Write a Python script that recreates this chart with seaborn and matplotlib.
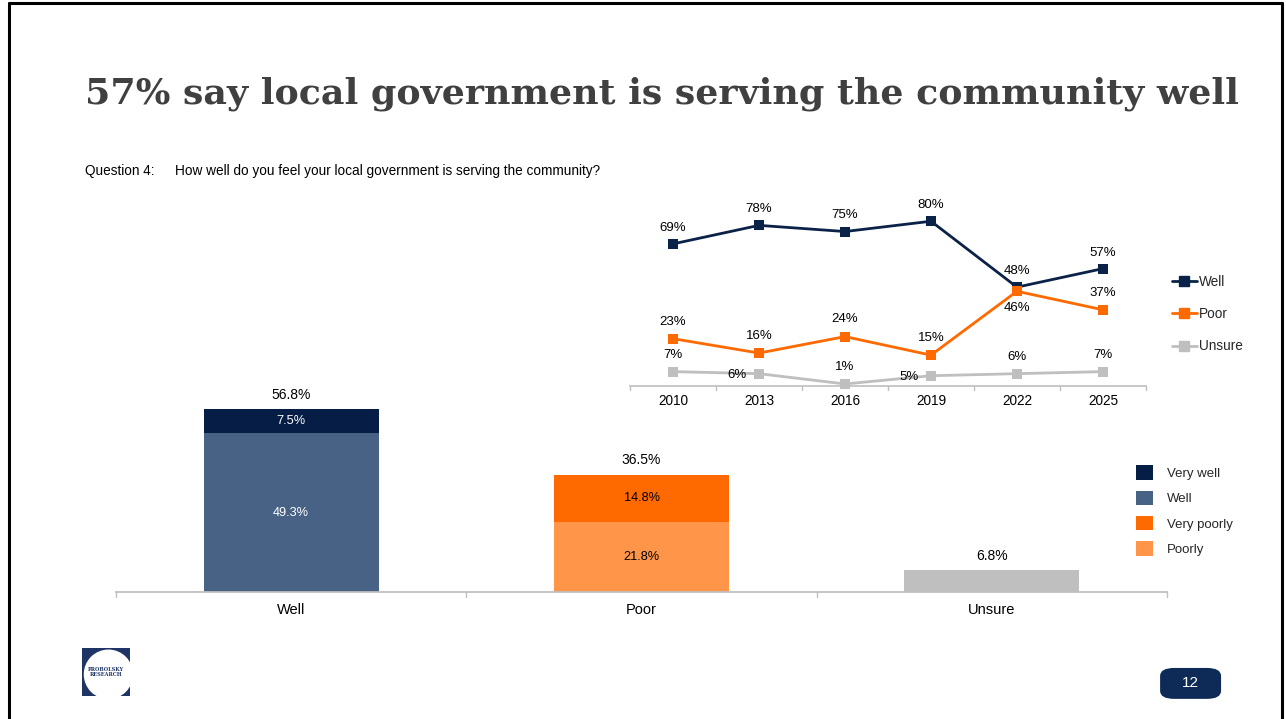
import numpy as np
import pandas as pd
import matplotlib.pyplot as plt
import seaborn as sns
from matplotlib.patches import Patch, FancyBboxPatch, Rectangle, Circle
from matplotlib.lines import Line2D

# bar chart data (2025 survey)
categories = ["Well", "Poor", "Unsure"]
totals = [56.8, 36.5, 6.8]
base_segment = [49.3, 21.8, 6.8]
top_segment = [7.5, 14.8, 0.0]
segment_names = ["Very well", "Well", "Very poorly", "Poorly"]

# trend data
years = ["2010", "2013", "2016", "2019", "2022", "2025"]
well_trend = [69, 78, 75, 80, 48, 57]
poor_trend = [23, 16, 24, 15, 46, 37]
unsure_trend = [7, 6, 1, 5, 6, 7]

NAVY = "#061E45"
WELL_BLUE = "#476285"
DEEP_ORANGE = "#FF6A00"
LIGHT_ORANGE = "#FF9548"
GRAY = "#BFBFBF"
LINE_NAVY = "#0B2248"

sns.set_theme(style="white")
plt.rcParams['font.family'] = ['Liberation Sans', 'DejaVu Sans']

fig = plt.figure(figsize=(12.86, 7.19), dpi=100)

# slide frame
for xs, ys in [([0.007, 0.007], [0.0, 0.996]), ([0.007, 0.997], [0.996, 0.996]), ([0.997, 0.997], [0.0, 0.996])]:
    fig.add_artist(Line2D(xs, ys, color="black", lw=2.2, transform=fig.transFigure))

fig.text(0.0661, 0.869, "57% say local government is serving the community well",
         fontsize=26.2, fontweight="bold", family="DejaVu Serif", color="#404040", va="center", ha="left")
fig.text(0.0661, 0.762, "Question 4:", fontsize=9.8, color="black", va="center")
fig.text(0.136, 0.762, "How well do you feel your local government is serving the community?",
         fontsize=9.8, color="black", va="center")

# ---- stacked bar chart ----
ax = fig.add_axes([0.0902, 0.1766, 0.8173, 0.4478])
df_bar = pd.DataFrame({"cat": categories, "total": totals, "base": base_segment})
sns.barplot(data=df_bar, x="cat", y="total", hue="cat", palette=[NAVY, DEEP_ORANGE, GRAY],
            width=0.5, legend=False, ax=ax, saturation=1, linewidth=0, edgecolor="none")
sns.barplot(data=df_bar, x="cat", y="base", hue="cat", palette=[WELL_BLUE, LIGHT_ORANGE, GRAY],
            width=0.5, legend=False, ax=ax, saturation=1, linewidth=0, edgecolor="none")
ax.set_ylim(0, 100)
ax.set_xlim(-0.5, 2.5)
ax.set_xlabel("")
ax.set_ylabel("")
ax.set_yticks([])
ax.set_xticks([0, 1, 2])
ax.set_xticklabels(categories, fontsize=10.5, color="black")
ax.tick_params(axis="x", length=0, pad=8)
for s in ["top", "right", "left"]:
    ax.spines[s].set_visible(False)
ax.spines["bottom"].set_color(GRAY)
ax.spines["bottom"].set_linewidth(1.3)
for b in [-0.5, 0.5, 1.5, 2.5]:
    ax.plot([b, b], [0, -1.5], color=GRAY, lw=1, clip_on=False)

for i, cat in enumerate(categories):
    ax.text(i, totals[i] + 2.3, f"{totals[i]:.1f}%", ha="center", va="bottom", fontsize=10, color="black")
    if top_segment[i] > 0:
        seg_col = "white" if i == 0 else "black"
        ax.text(i, base_segment[i] + top_segment[i] / 2, f"{top_segment[i]:.1f}%", ha="center", va="center",
                fontsize=9.2, color=seg_col)
        ax.text(i, base_segment[i] / 2, f"{base_segment[i]:.1f}%", ha="center", va="center",
                fontsize=9.2, color=seg_col)

bar_handles = [Patch(facecolor=c, edgecolor="none") for c in [NAVY, WELL_BLUE, DEEP_ORANGE, LIGHT_ORANGE]]
fig.legend(bar_handles, segment_names, loc="upper left", bbox_to_anchor=(0.8835, 0.353),
           frameon=False, fontsize=9.5, handlelength=1.3, handleheight=1.3, labelspacing=0.82,
           handletextpad=1.0, borderaxespad=0, borderpad=0)

# ---- trend line chart ----
ax2 = fig.add_axes([0.4899, 0.4631, 0.4012, 0.2865])
trend = pd.DataFrame({
    "year": years * 3,
    "value": well_trend + poor_trend + unsure_trend,
    "series": ["Well"] * 6 + ["Poor"] * 6 + ["Unsure"] * 6,
})
line_colors = {"Well": LINE_NAVY, "Poor": DEEP_ORANGE, "Unsure": GRAY}
sns.lineplot(data=trend, x="year", y="value", hue="series", palette=line_colors, marker="s",
             markersize=7, markeredgewidth=0, linewidth=2, legend=False, ax=ax2, clip_on=False)
ax2.set_ylim(0, 100)
ax2.set_xlim(-0.5, 5.5)
ax2.set_xlabel("")
ax2.set_ylabel("")
ax2.set_yticks([])
ax2.tick_params(axis="x", length=0, pad=6, labelsize=9.8, labelcolor="black")
for s in ["top", "right", "left"]:
    ax2.spines[s].set_visible(False)
ax2.spines["bottom"].set_color(GRAY)
ax2.spines["bottom"].set_linewidth(1.2)
for b in np.arange(-0.5, 6.0, 1.0):
    ax2.plot([b, b], [0, -2], color=GRAY, lw=1, clip_on=False)

lab_kw = dict(fontsize=9.5, color="black", ha="center", va="center")
for i, v in enumerate(well_trend):
    ax2.text(i, v + 7.8, f"{v}%", **lab_kw)
for i, v in enumerate(poor_trend):
    off = -8.3 if i == 4 else 8.3
    ax2.text(i, v + off, f"{v}%", **lab_kw)
for i, v in enumerate(unsure_trend):
    if i in (1, 3):
        ax2.text(i - 0.25, v - 0.7, f"{v}%", **lab_kw)
    else:
        ax2.text(i, v + 8.3, f"{v}%", **lab_kw)

line_handles = [Line2D([], [], color=line_colors[k], marker="s", markersize=7, lw=2) for k in line_colors]
fig.legend(line_handles, list(line_colors), loc="upper left", bbox_to_anchor=(0.9115, 0.618),
           frameon=False, fontsize=9.8, handlelength=1.8, labelspacing=1.35,
           handletextpad=0.15, borderaxespad=0, borderpad=0)

# logo
logo = fig.add_axes([0.0638, 0.032, 0.0373, 0.067])
logo.set_xlim(0, 1)
logo.set_ylim(0, 1)
logo.axis("off")
logo.add_patch(Rectangle((0, 0), 1, 1, color="#1F3565"))
logo.add_patch(Circle((0.55, 0.45), 0.5, color="white"))
logo.text(0.5, 0.5, "PROBOLSKY\nRESEARCH", fontsize=3.6, family="DejaVu Serif", fontweight="bold",
          color="#1F3565", ha="center", va="center", linespacing=1.0)

# page number badge
fig.add_artist(FancyBboxPatch((0.9021, 0.028), 0.0474, 0.043, boxstyle="round,pad=0,rounding_size=0.011",
                              transform=fig.transFigure, facecolor="#0E2A56", edgecolor="none"))
fig.text(0.9258, 0.0495, "12", color="white", fontsize=11, ha="center", va="center")

fig.savefig("out.png", dpi=100)
